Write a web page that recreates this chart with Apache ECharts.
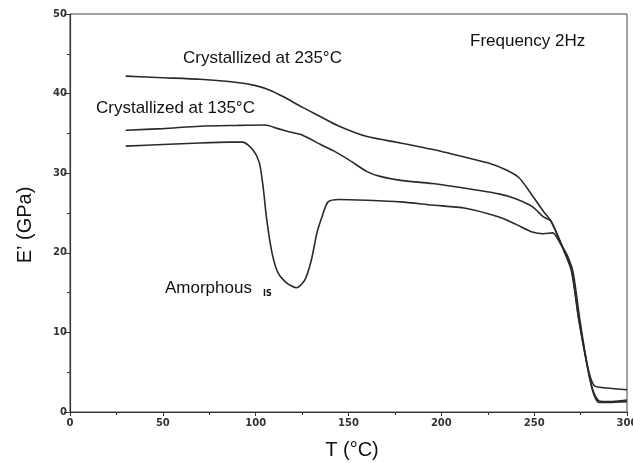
<!DOCTYPE html>
<html>
<head>
<meta charset="utf-8">
<script src="https://cdn.jsdelivr.net/npm/echarts@6/dist/echarts.min.js"></script>
<style>html,body{margin:0;padding:0;background:#fff;}#c{width:633px;height:463px;}</style>
</head>
<body>
<div id="c"></div>
<script>
var xTicks = [0, 50, 100, 150, 200, 250, 300];
var yTicks = [0, 10, 20, 30, 40, 50];

var cryst235 = [[30,42.2],[50,42.0],[70,41.8],[90,41.4],[100,41.0],[108,40.4],[115,39.6],[125,38.3],[135,37.1],[145,35.9],[160,34.6],[178,33.8],[195,33.0],[213,32.0],[225,31.3],[235,30.4],[242,29.4],[249,27.2],[255,25.2],[259,24.0],[265,20.9],[270,18.0],[274,11.8],[279,5.5],[282,3.4],[285,3.1],[300,2.8]];

var cryst135 = [[30,35.4],[50,35.6],[70,35.9],[90,36.0],[105,36.05],[112,35.6],[118,35.2],[125,34.8],[135,33.6],[142,32.8],[150,31.7],[160,30.2],[167,29.6],[178,29.1],[195,28.7],[213,28.1],[231,27.4],[240,26.8],[249,25.8],[255,24.5],[259,24.0],[265,20.8],[270,17.8],[274,11.6],[279,5.3],[282,2.5],[285,1.4],[290,1.3],[300,1.5]];

var amorphous = [[30,33.4],[50,33.6],[70,33.8],[86,33.9],[93,33.9],[98.6,32.9],[102,31.3],[104,28.3],[106,24.1],[108.8,20.0],[112,17.5],[116.8,16.2],[122,15.6],[126.5,16.6],[130,19.1],[133,22.5],[135.7,24.5],[139,26.4],[145,26.7],[160,26.6],[178,26.4],[195,26.0],[213,25.6],[231,24.5],[240,23.6],[249,22.6],[255,22.4],[260,22.5],[264,21.2],[268,19.6],[271,17.5],[274.6,11.6],[279,5.3],[282,2.3],[285,1.2],[290,1.2],[300,1.3]];

var seriesNames = ['Crystallized at 235°C', 'Crystallized at 135°C', 'Amorphous'];

var chart = echarts.init(document.getElementById('c'));
var tickFont = {fontFamily: 'DejaVu Sans', fontWeight: 'bold', fontSize: 10, color: '#333'};
var lineStyle = {color: '#2a2a2a', width: 1.6};
var annFont = '17px "Liberation Sans", Arial';
function mk(name, data) {
  return {type: 'line', name: name, data: data, showSymbol: false, symbol: 'none',
    smooth: 0.25, lineStyle: lineStyle, animation: false};
}
function ann(text, x, y, font) {
  return {type: 'text', x: x, y: y, style: {text: text, font: font || annFont, fill: '#111', align: 'left', verticalAlign: 'middle'}};
}
chart.setOption({
  animation: false,
  grid: {left: 70, right: 6, top: 14, bottom: 51, show: true, borderColor: '#444', borderWidth: 1, outerBoundsMode: 'none', containLabel: false},
  xAxis: {type: 'value', min: 0, max: 300, interval: 50,
    axisLine: {onZero: false, lineStyle: {color: '#333', width: 1.2}},
    axisTick: {show: true, length: 4, inside: false, lineStyle: {color: '#333'}},
    minorTick: {show: true, splitNumber: 2, length: 3, lineStyle: {color: '#333'}},
    splitLine: {show: false},
    axisLabel: Object.assign({margin: 6}, tickFont)},
  yAxis: {type: 'value', min: 0, max: 50, interval: 10,
    axisLine: {show: true, lineStyle: {color: '#333', width: 1.2}},
    axisTick: {show: true, length: 6, lineStyle: {color: '#333'}},
    minorTick: {show: true, splitNumber: 2, length: 3, lineStyle: {color: '#333'}},
    splitLine: {show: false},
    axisLabel: Object.assign({margin: 3}, tickFont)},
  series: [mk(seriesNames[0], cryst235), mk(seriesNames[1], cryst135), mk(seriesNames[2], amorphous)],
  graphic: [
    ann(seriesNames[0], 183, 58),
    ann(seriesNames[1], 96, 108),
    ann('Frequency 2Hz', 470, 41),
    ann(seriesNames[2], 165, 288),
    ann('IS', 263, 294, 'bold 8px "DejaVu Sans"'),
    {type: 'text', x: 25, y: 225, rotation: Math.PI / 2, style: {text: 'E’ (GPa)', font: '20px "Liberation Sans", Arial', fill: '#111', align: 'center', verticalAlign: 'middle'}},
    {type: 'text', x: 352, y: 450, style: {text: 'T (°C)', font: '20px "Liberation Sans", Arial', fill: '#111', align: 'center', verticalAlign: 'middle'}}
  ]
});
</script>
</body>
</html>
